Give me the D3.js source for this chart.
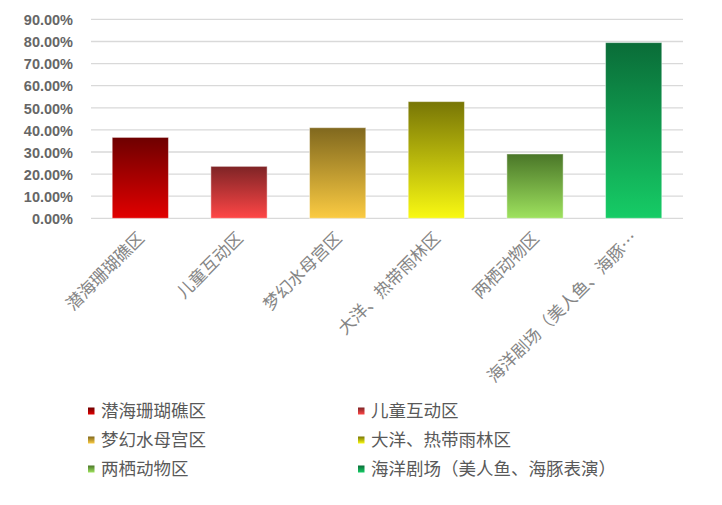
<!DOCTYPE html>
<html><head><meta charset="utf-8">
<script src="https://cdn.jsdelivr.net/npm/d3@7"></script>
<style>body{margin:0;background:#fff}svg{display:block}</style>
</head><body>
<svg id="chart" width="722" height="505"></svg>
<script>
const categories = ["潜海珊瑚礁区","儿童互动区","梦幻水母宫区","大洋、热带雨林区","两栖动物区","海洋剧场（美人鱼、海豚表演）"];
const tickLabels = ["潜海珊瑚礁区","儿童互动区","梦幻水母宫区","大洋、热带雨林区","两栖动物区","海洋剧场（美人鱼、海豚…"];
const values = [0.366, 0.235, 0.41, 0.528, 0.291, 0.795];
const yTicks = [0,0.1,0.2,0.3,0.4,0.5,0.6,0.7,0.8,0.9];
const topColors = ["#6e0000","#7e2426","#80681e","#787606","#4a7628","#0a6c38"];
const bottomColors = ["#e20000","#ff4646","#fbcb42","#f9f912","#9ee25e","#16cc66"];

const svg = d3.select("#chart");
const x = d3.scaleBand().domain(categories).range([91, 683]).paddingInner(0.43).paddingOuter(0.215);
const y = d3.scaleLinear().domain([0, 0.9]).range([218.3, 19.4]);

const defs = svg.append("defs");
categories.forEach((c,i)=>{
  const g = defs.append("linearGradient").attr("id","g"+i).attr("x1",0).attr("y1",0).attr("x2",0).attr("y2",1);
  g.append("stop").attr("offset","0%").attr("stop-color",topColors[i]);
  g.append("stop").attr("offset","100%").attr("stop-color",bottomColors[i]);
});

// grid
svg.append("g").selectAll("line").data(yTicks).join("line")
  .attr("x1",91).attr("x2",683)
  .attr("y1",d=>y(d)).attr("y2",d=>y(d))
  .attr("stroke","#d9d9d9").attr("stroke-width",1.3);

// y labels
const yAxis = d3.axisLeft(y).tickValues(yTicks).tickFormat(d=>(d*100).toFixed(2)+"%").tickSize(0).tickPadding(0);
const ya = svg.append("g").attr("transform","translate(73,0)").call(yAxis);
ya.select(".domain").remove();
ya.selectAll("text").attr("font-family","'Liberation Sans',Arial,sans-serif").attr("font-weight","bold")
  .attr("font-size","14.5px").attr("fill","#666").attr("dy","0.36em");

// bars
svg.append("g").selectAll("rect").data(values).join("rect")
  .attr("x",(d,i)=>x(categories[i]))
  .attr("width",x.bandwidth())
  .attr("y",d=>y(d))
  .attr("height",d=>y(0)-y(d))
  .attr("fill",(d,i)=>`url(#g${i})`)
  .attr("stroke","rgba(255,255,255,0.45)").attr("stroke-width",1);

// x labels
const xAxis = d3.axisBottom(x).tickFormat((d,i)=>tickLabels[i]).tickSize(0).tickPadding(0);
const xa = svg.append("g").attr("transform","translate(0,218.3)").call(xAxis);
xa.select(".domain").remove();
xa.selectAll("text")
  .attr("font-family","'Noto Sans CJK SC',sans-serif").attr("font-size","17px").attr("fill","#858585")
  .attr("text-anchor","end").attr("dy",0).attr("y",0)
  .attr("transform","translate(5,21) rotate(-45)");

// legend
const legend = svg.append("g");
const cols = [91, 361], rows = [411, 440, 469];
categories.forEach((c,i)=>{
  const lx = cols[i%2], ly = rows[Math.floor(i/2)];
  legend.append("rect").attr("x",lx-3).attr("y",ly-3.5).attr("width",6.5).attr("height",7).attr("fill",`url(#g${i})`);
  legend.append("text").attr("x",lx+10).attr("y",ly).attr("dy","0.36em")
    .attr("font-family","'Noto Sans CJK SC',sans-serif").attr("font-size","17.5px").attr("fill","#595959").text(c);
});
</script>
</body></html>
